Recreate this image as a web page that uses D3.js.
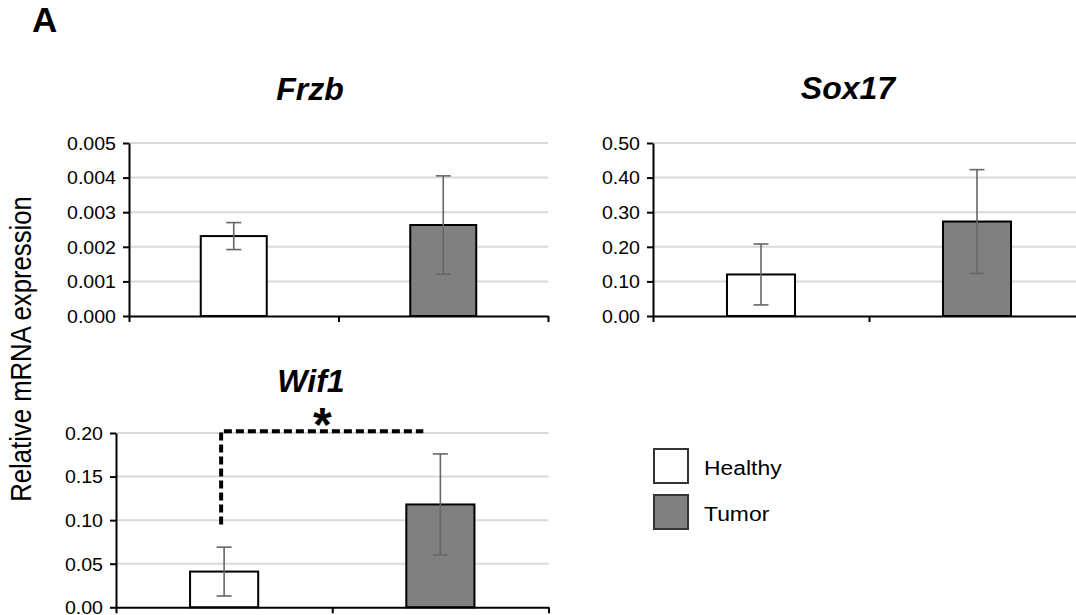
<!DOCTYPE html>
<html>
<head>
<meta charset="utf-8">
<script src="https://cdn.jsdelivr.net/npm/d3@7"></script>
<style>
  body { margin: 0; background: white; }
  svg { display: block; font-family: "Liberation Sans", Arial, sans-serif; }
</style>
</head>
<body>
<div id="chart"></div>
<script>
// Data
const groups = ["Healthy", "Tumor"];

const frzbMean = [0.00231, 0.00263];
const frzbErr = [0.00039, 0.00142];
const frzbTicks = [0, 0.001, 0.002, 0.003, 0.004, 0.005];

const sox17Mean = [0.120, 0.273];
const sox17Err = [0.088, 0.150];
const sox17Ticks = [0, 0.10, 0.20, 0.30, 0.40, 0.50];

const wif1Mean = [0.041, 0.118];
const wif1Err = [0.028, 0.058];
const wif1Ticks = [0, 0.05, 0.10, 0.15, 0.20];

// significance bracket for Wif1 (value levels)
const sigLevel = 0.202;
const sigBase = 0.095;

const colors = { Healthy: "#ffffff", Tumor: "#808080" };

let width = 1076, height = 615;

let svg = d3.select("#chart")
    .append("svg")
    .attr("width", width)
    .attr("height", height);

// Panel letter
svg.append("text")
    .attr("x", 32)
    .attr("y", 32)
    .style("font-size", "35px")
    .style("font-weight", "bold")
    .text("A");

// Shared y label
svg.append("text")
    .attr("transform", "translate(31,349) rotate(-90) scale(1,1.15)")
    .style("font-size", "25.7px")
    .style("text-anchor", "middle")
    .attr("fill", "#000")
    .text("Relative mRNA expression");

const stretch = 1.12;

function drawPanel(p) {
    let g = svg.append("g");

    let yScale = d3.scaleLinear()
        .domain([0, d3.max(p.ticks)])
        .range([p.bottom, p.top]);

    let xBand = d3.scaleBand()
        .domain(groups)
        .range([p.left, p.right])
        .paddingInner(0.685)
        .paddingOuter(0.3425);

    let xEdge = d3.scaleLinear()
        .domain([0, groups.length])
        .range([p.left, p.right]);

    // gridlines
    g.selectAll(".grid")
        .data(p.ticks.filter(t => t > 0))
        .enter().append("line")
        .attr("x1", p.left)
        .attr("x2", p.right)
        .attr("y1", d => yScale(d))
        .attr("y2", d => yScale(d))
        .attr("stroke", "#d9d9d9")
        .attr("stroke-width", 2);

    // bars
    let data = groups.map((k, i) => ({ group: k, mean: p.mean[i], err: p.err[i] }));

    g.selectAll(".bar")
        .data(data)
        .enter().append("rect")
        .attr("x", d => xBand(d.group))
        .attr("y", d => yScale(d.mean))
        .attr("width", xBand.bandwidth())
        .attr("height", d => yScale(0) - yScale(d.mean))
        .attr("fill", d => colors[d.group])
        .attr("stroke", "#000")
        .attr("stroke-width", 2);

    // error bars
    let cx = d => xBand(d.group) + xBand.bandwidth() / 2;
    let eb = g.selectAll(".err")
        .data(data)
        .enter().append("g")
        .attr("stroke", "#666")
        .attr("stroke-width", 1.6);
    eb.append("line")
        .attr("x1", cx).attr("x2", cx)
        .attr("y1", d => yScale(d.mean + d.err))
        .attr("y2", d => yScale(d.mean - d.err));
    eb.append("line")
        .attr("x1", d => cx(d) - 7.5).attr("x2", d => cx(d) + 7.5)
        .attr("y1", d => yScale(d.mean + d.err))
        .attr("y2", d => yScale(d.mean + d.err));
    eb.append("line")
        .attr("x1", d => cx(d) - 7.5).attr("x2", d => cx(d) + 7.5)
        .attr("y1", d => yScale(d.mean - d.err))
        .attr("y2", d => yScale(d.mean - d.err));

    // y axis
    let yAxis = g.append("g")
        .attr("transform", `translate(${p.left},0)`)
        .call(d3.axisLeft(yScale)
            .tickValues(p.ticks)
            .tickFormat(d3.format(p.fmt))
            .tickSize(6)
            .tickSizeOuter(0));
    yAxis.selectAll("path, line").attr("stroke", "#000").attr("stroke-width", 2);
    yAxis.selectAll("text")
        .attr("x", -13 / stretch)
        .attr("dy", "0.36em")
        .attr("transform", `scale(${stretch},1)`)
        .attr("fill", "#000")
        .style("font-size", "17.5px")
        .style("font-family", "'Liberation Sans', Arial, sans-serif");

    // x axis (category boundaries, no labels)
    let xAxis = g.append("g")
        .attr("transform", `translate(0,${p.bottom})`)
        .call(d3.axisBottom(xEdge)
            .tickValues(d3.range(groups.length + 1))
            .tickFormat("")
            .tickSize(6)
            .tickSizeOuter(0));
    xAxis.selectAll("path, line").attr("stroke", "#000").attr("stroke-width", 2);

    // title
    svg.append("text")
        .attr("x", p.titleX)
        .attr("y", p.titleY)
        .style("font-size", "32px")
        .style("font-weight", "bold")
        .style("font-style", "italic")
        .style("text-anchor", "middle")
        .text(p.title);

    return { yScale, xBand };
}

drawPanel({ title: "Frzb", mean: frzbMean, err: frzbErr, ticks: frzbTicks, fmt: ".3f",
    left: 129, right: 548, top: 143, bottom: 316, titleX: 310, titleY: 100 });

drawPanel({ title: "Sox17", mean: sox17Mean, err: sox17Err, ticks: sox17Ticks, fmt: ".2f",
    left: 653, right: 1085, top: 143, bottom: 316, titleX: 848, titleY: 99 });

let wif = drawPanel({ title: "Wif1", mean: wif1Mean, err: wif1Err, ticks: wif1Ticks, fmt: ".2f",
    left: 116, right: 548.5, top: 433, bottom: 607.3, titleX: 311, titleY: 392 });

// significance bracket
let bw = wif.xBand.bandwidth();
let sx1 = wif.xBand("Healthy") + bw / 2 - 3;
let sx2 = wif.xBand("Tumor") + 17;
svg.append("path")
    .attr("d", `M${sx1},${wif.yScale(sigBase)}V${wif.yScale(sigLevel)}H${sx2}`)
    .attr("fill", "none")
    .attr("stroke", "#000")
    .attr("stroke-width", 4)
    .attr("stroke-dasharray", "8,4");

svg.append("text")
    .attr("x", (sx1 + sx2) / 2)
    .attr("y", 441)
    .style("font-size", "48px")
    .style("font-weight", "bold")
    .style("text-anchor", "middle")
    .text("*");

// legend
const legend = svg.selectAll(".legend")
    .data(groups)
    .enter().append("g")
    .attr("class", "legend")
    .attr("transform", (d, i) => `translate(654,${449 + i * 46})`);

legend.append("rect")
    .attr("width", 34)
    .attr("height", 34)
    .attr("fill", d => colors[d])
    .attr("stroke", "#333")
    .attr("stroke-width", 2);

legend.append("text")
    .attr("transform", "translate(50,26) scale(1.09,1)")
    .style("font-size", "21px")
    .attr("fill", "#000")
    .text(d => d);
</script>
</body>
</html>
